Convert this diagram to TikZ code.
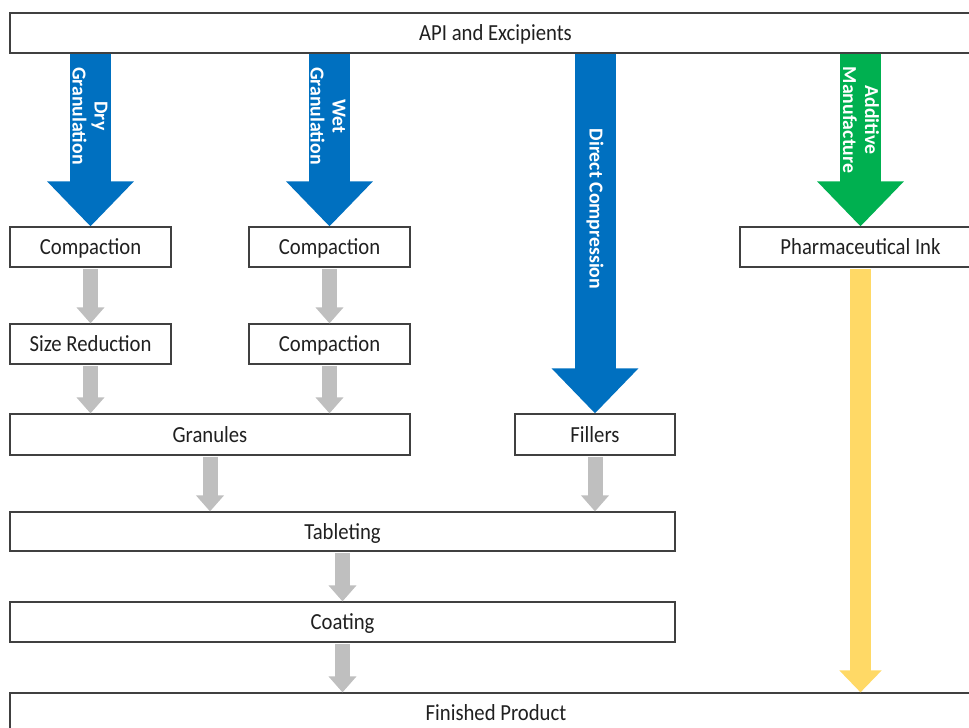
\documentclass[tikz,border=0pt]{standalone}
\usepackage{fontspec}
\setmainfont{Carlito}
\newfontfamily\boxfont{Carlito}[FakeStretch=0.9]
\usetikzlibrary{arrows.meta}

\definecolor{flowblue}{RGB}{0,112,192}
\definecolor{flowgreen}{RGB}{0,176,80}
\definecolor{flowyellow}{RGB}{255,217,102}
\definecolor{flowgray}{RGB}{191,191,191}
\definecolor{edgegray}{RGB}{64,64,64}
\definecolor{inkdark}{RGB}{32,32,32}

\begin{document}
\begin{tikzpicture}[x=1pt,y=-1pt,
  box/.style={draw=edgegray, line width=1.2pt, fill=white, inner sep=0pt,
    minimum height=40pt, text height=20pt, text depth=5pt, text=inkdark,
    font=\boxfont\fontsize{23}{27}\selectfont},
  bigroute/.style={line width=41pt, -{Triangle[width=84pt,length=45pt]}},
  minorroute/.style={flowgray, line width=15pt, shorten <=1.5pt,
    -{Triangle[width=27pt,length=16pt]}},
  inkroute/.style={flowyellow, line width=21pt, shorten <=1.5pt,
    -{Triangle[width=41pt,length=22pt]}},
  routelabel/.style={text=white, rotate=-90, align=center, inner sep=0pt,
    font=\bfseries\fontsize{19.8}{22}\selectfont}
]
\useasboundingbox (0,0) rectangle (969,728);
\clip (0,0) rectangle (969,728);

% process boxes
\node[box, minimum width=971pt] (top) at (495.5,33) {API and Excipients};
\node[box, minimum width=161pt] (comp1) at (90.5,247) {Compaction};
\node[box, minimum width=161pt] (comp2) at (329.5,247) {Compaction};
\node[box, minimum width=241pt] (ink) at (860.5,247) {Pharmaceutical Ink};
\node[box, minimum width=161pt] (sizered) at (90.5,344) {Size Reduction};
\node[box, minimum width=161pt] (comp3) at (329.5,344) {Compaction};
\node[box, minimum width=400pt, minimum height=41pt] (granules) at (210,434.5) {Granules};
\node[box, minimum width=160pt, minimum height=41pt] (fillers) at (595,434.5) {Fillers};
\node[box, minimum width=665pt, minimum height=39pt] (tablet) at (342.5,531.5) {Tableting};
\node[box, minimum width=665pt] (coat) at (342.5,622) {Coating};
\node[box, minimum width=972pt] (final) at (496,713) {Finished Product};

% main manufacturing routes
\draw[bigroute, flowblue] (comp1.north |- top.south) -- (comp1.north);
\draw[bigroute, flowblue] (comp2.north |- top.south) -- (comp2.north);
\draw[bigroute, flowblue] (fillers.north |- top.south) -- (fillers.north);
\draw[bigroute, flowgreen] (ink.north |- top.south) -- (ink.north);

\node[routelabel] (dry) at (90,116) {Dry\\Granulation};
\node[routelabel] (wet) at (328,116) {Wet\\Granulation};
\node[routelabel] (direct) at (595,209) {Direct Compression};
\node[routelabel] (additive) at (861,120) {Additive\\Manufacture};

% intermediate steps
\draw[minorroute] (comp1.south) -- (sizered.north);
\draw[minorroute] (comp2.south) -- (comp3.north);
\draw[minorroute] (sizered.south) -- (sizered.south |- granules.north);
\draw[minorroute] (comp3.south) -- (comp3.south |- granules.north);
\draw[minorroute] (granules.south) -- (granules.south |- tablet.north);
\draw[minorroute] (fillers.south) -- (fillers.south |- tablet.north);
\draw[minorroute] (tablet.south) -- (coat.north);
\draw[minorroute] (coat.south) -- (coat.south |- final.north);
\draw[inkroute] (ink.south) -- (ink.south |- final.north);
\end{tikzpicture}
\end{document}
